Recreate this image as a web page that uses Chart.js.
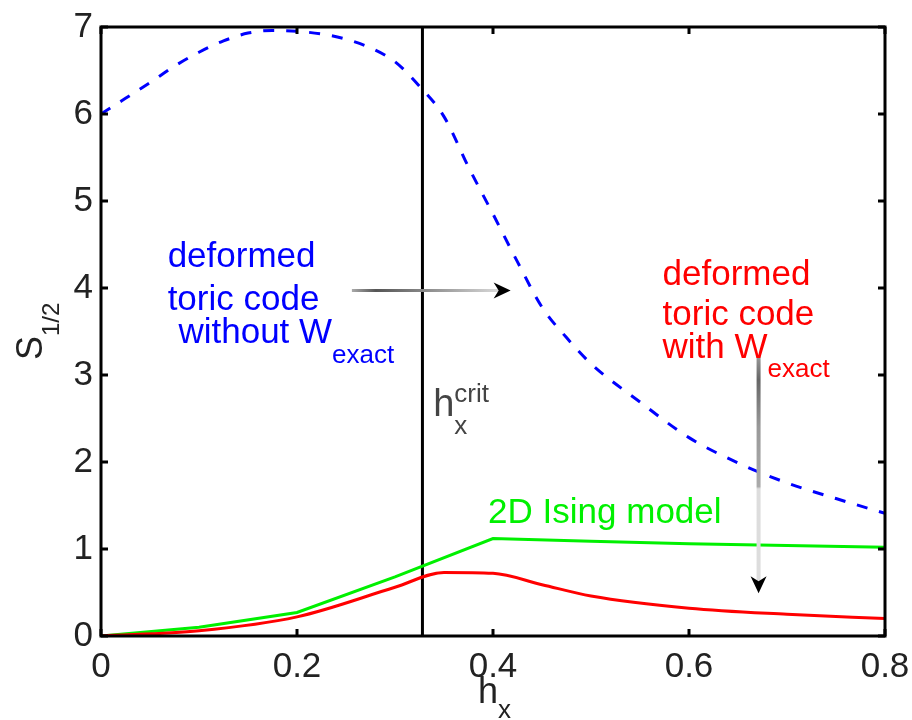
<!DOCTYPE html>
<html>
<head>
<meta charset="utf-8">
<script src="https://cdn.jsdelivr.net/npm/chart.js@4.4.1/dist/chart.umd.min.js"></script>
<style>
  html, body { margin: 0; padding: 0; background: #fff; }
  #wrap { width: 912px; height: 720px; }
</style>
</head>
<body>
<div id="wrap"><canvas id="chart" width="912" height="720"></canvas></div>
<script>
// S_1/2 versus h_x
const hBlue = [0, 0.025, 0.05, 0.075, 0.1, 0.125, 0.15, 0.175, 0.2, 0.225, 0.25, 0.275, 0.3, 0.325, 0.35, 0.375, 0.4, 0.425, 0.45, 0.475, 0.5, 0.55, 0.6, 0.65, 0.7, 0.75, 0.8];
const sBlue = [6.0, 6.18, 6.36, 6.55, 6.71, 6.84, 6.93, 6.96, 6.95, 6.92, 6.86, 6.76, 6.6, 6.32, 5.97, 5.39, 4.85, 4.3, 3.78, 3.43, 3.13, 2.69, 2.28, 1.99, 1.76, 1.58, 1.41];

const hGreen = [0, 0.1, 0.2, 0.3, 0.4, 0.5, 0.6, 0.7, 0.8];
const sGreen = [0, 0.1, 0.27, 0.68, 1.12, 1.09, 1.06, 1.04, 1.02];

const hRed = [0, 0.1, 0.2, 0.3, 0.35, 0.4, 0.45, 0.5, 0.6, 0.7, 0.8];
const sRed = [0, 0.06, 0.22, 0.56, 0.73, 0.72, 0.59, 0.46, 0.32, 0.25, 0.2];

const hCrit = 0.328;
const xTicks = [0, 0.2, 0.4, 0.6, 0.8];
const yTicks = [0, 1, 2, 3, 4, 5, 6, 7];

const FONT = '"Liberation Sans", Arial, Helvetica, sans-serif';

const pts = (xs, ys) => xs.map((x, i) => ({ x: x, y: ys[i] }));

// text with subscript / superscript
const drawSub = (ctx, x, y, main, sub, size, subSize, dy) => {
    ctx.font = size + 'px ' + FONT;
    ctx.fillText(main, x, y);
    const w = ctx.measureText(main).width;
    ctx.font = subSize + 'px ' + FONT;
    ctx.fillText(sub, x + w, y + dy);
};

const arrowHead = (ctx, x, y, dir) => {
    ctx.save();
    ctx.translate(x, y);
    if (dir === 'down') ctx.rotate(Math.PI / 2);
    ctx.fillStyle = '#000';
    ctx.beginPath();
    ctx.moveTo(0, 0);
    ctx.lineTo(-17, -8);
    ctx.lineTo(-12, 0);
    ctx.lineTo(-17, 8);
    ctx.closePath();
    ctx.fill();
    ctx.restore();
};

const noPad = s => { s.paddingLeft = 0; s.paddingRight = 0; s.paddingTop = 0; s.paddingBottom = 0; };

const decor = {
    id: 'decor',
    afterDatasetsDraw(chart) {
        const ctx = chart.ctx;
        const xs = chart.scales.x, ys = chart.scales.y;
        const a = chart.chartArea;
        const px = v => xs.getPixelForValue(v);
        const py = v => ys.getPixelForValue(v);

        ctx.save();
        // box and inward ticks
        ctx.strokeStyle = '#000';
        ctx.lineWidth = 3;
        ctx.strokeRect(a.left, a.top, a.right - a.left, a.bottom - a.top);
        ctx.beginPath();
        xTicks.forEach(t => {
            const x = px(t);
            ctx.moveTo(x, a.bottom); ctx.lineTo(x, a.bottom - 7);
            ctx.moveTo(x, a.top); ctx.lineTo(x, a.top + 7);
        });
        yTicks.forEach(t => {
            const y = py(t);
            ctx.moveTo(a.left, y); ctx.lineTo(a.left + 7, y);
            ctx.moveTo(a.right, y); ctx.lineTo(a.right - 7, y);
        });
        ctx.stroke();

        // horizontal arrow to blue curve
        const ay = py(3.97), ax0 = px(0.256), ax1 = px(0.418);
        let g = ctx.createLinearGradient(ax0, 0, ax1, 0);
        g.addColorStop(0, '#aaaaaa');
        g.addColorStop(0.15, '#555555');
        g.addColorStop(0.35, '#777777');
        g.addColorStop(0.55, '#999999');
        g.addColorStop(0.95, '#dddddd');
        ctx.strokeStyle = g;
        ctx.lineWidth = 3;
        ctx.beginPath();
        ctx.moveTo(ax0, ay); ctx.lineTo(ax1 - 12, ay);
        ctx.stroke();
        arrowHead(ctx, ax1, ay, 'right');

        // vertical arrow to red curve
        const vx = px(0.671), vy0 = py(3.22), vy1 = py(0.49);
        g = ctx.createLinearGradient(0, vy0, 0, vy1);
        g.addColorStop(0, '#999999');
        g.addColorStop(0.1, '#666666');
        g.addColorStop(0.3, '#999999');
        g.addColorStop(0.55, '#aaaaaa');
        g.addColorStop(0.56, '#dddddd');
        g.addColorStop(1, '#dddddd');
        ctx.strokeStyle = g;
        ctx.lineWidth = 4;
        ctx.beginPath();
        ctx.moveTo(vx, vy0); ctx.lineTo(vx, vy1 - 12);
        ctx.stroke();
        arrowHead(ctx, vx, vy1, 'down');

        // annotations
        ctx.textAlign = 'left';
        ctx.textBaseline = 'alphabetic';
        ctx.fillStyle = '#0000ff';
        ctx.font = '35px ' + FONT;
        ctx.fillText('deformed', px(0.068), py(4.24));
        ctx.fillText('toric code', px(0.068), py(3.75));
        drawSub(ctx, px(0.079), py(3.37), 'without W', 'exact', 35, 26, 20);

        ctx.fillStyle = '#ff0000';
        ctx.font = '35px ' + FONT;
        ctx.fillText('deformed', px(0.573), py(4.04));
        ctx.fillText('toric code', px(0.573), py(3.57));
        drawSub(ctx, px(0.573), py(3.2), 'with W', 'exact', 35, 26, 19);

        ctx.fillStyle = '#00f000';
        ctx.font = '35px ' + FONT;
        ctx.fillText('2D Ising model', px(0.395), py(1.30));

        // h_x^crit
        ctx.fillStyle = '#444444';
        ctx.font = '38px ' + FONT;
        const hx = px(0.339), hy = py(2.53);
        ctx.fillText('h', hx, hy);
        const hw = ctx.measureText('h').width;
        ctx.font = '26px ' + FONT;
        ctx.fillText('crit', hx + hw, hy - 14);
        ctx.fillText('x', hx + hw, hy + 18);

        // axis titles
        ctx.fillStyle = '#222222';
        drawSub(ctx, 478, 703, 'h', 'x', 36, 26, 15);

        ctx.translate(42, 360);
        ctx.rotate(-Math.PI / 2);
        drawSub(ctx, 0, 0, 'S', '1/2', 36, 24, 17);
        ctx.restore();
    }
};

new Chart(document.getElementById('chart'), {
    type: 'scatter',
    data: {
        datasets: [
            {
                label: 'deformed toric code without W_exact',
                data: pts(hBlue, sBlue),
                borderColor: '#0000ff',
                borderWidth: 3,
                borderDash: [11, 12],
                cubicInterpolationMode: 'monotone',
            },
            {
                label: 'deformed toric code with W_exact',
                data: pts(hRed, sRed),
                borderColor: '#ff0000',
                borderWidth: 3,
                cubicInterpolationMode: 'monotone',
            },
            {
                label: '2D Ising model',
                data: pts(hGreen, sGreen),
                borderColor: '#00f000',
                borderWidth: 3,
            },
            {
                label: 'h_x crit',
                data: [{ x: hCrit, y: 0 }, { x: hCrit, y: 7 }],
                borderColor: '#000000',
                borderWidth: 3,
            },
        ],
    },
    options: {
        responsive: false,
        animation: false,
        showLine: true,
        elements: { point: { radius: 0, hoverRadius: 0 }, line: { tension: 0 } },
        layout: { padding: { top: 27, right: 27, left: 0, bottom: 0 } },
        plugins: { legend: { display: false }, tooltip: { enabled: false } },
        scales: {
            x: {
                type: 'linear',
                min: 0,
                max: 0.8,
                afterFit: s => { s.height = 84; noPad(s); },
                afterBuildTicks: s => { s.ticks = xTicks.map(v => ({ value: v })); },
                grid: { display: false, drawTicks: false },
                border: { display: false },
                ticks: {
                    padding: 10,
                    color: '#222',
                    font: { family: FONT, size: 35 },
                    callback: v => String(Number(v.toFixed(1))),
                },
            },
            y: {
                type: 'linear',
                min: 0,
                max: 7,
                afterFit: s => { s.width = 101; noPad(s); },
                afterBuildTicks: s => { s.ticks = yTicks.map(v => ({ value: v })); },
                grid: { display: false, drawTicks: false },
                border: { display: false },
                ticks: {
                    padding: 8,
                    color: '#222',
                    font: { family: FONT, size: 35 },
                },
            },
        },
    },
    plugins: [decor],
});
</script>
</body>
</html>
